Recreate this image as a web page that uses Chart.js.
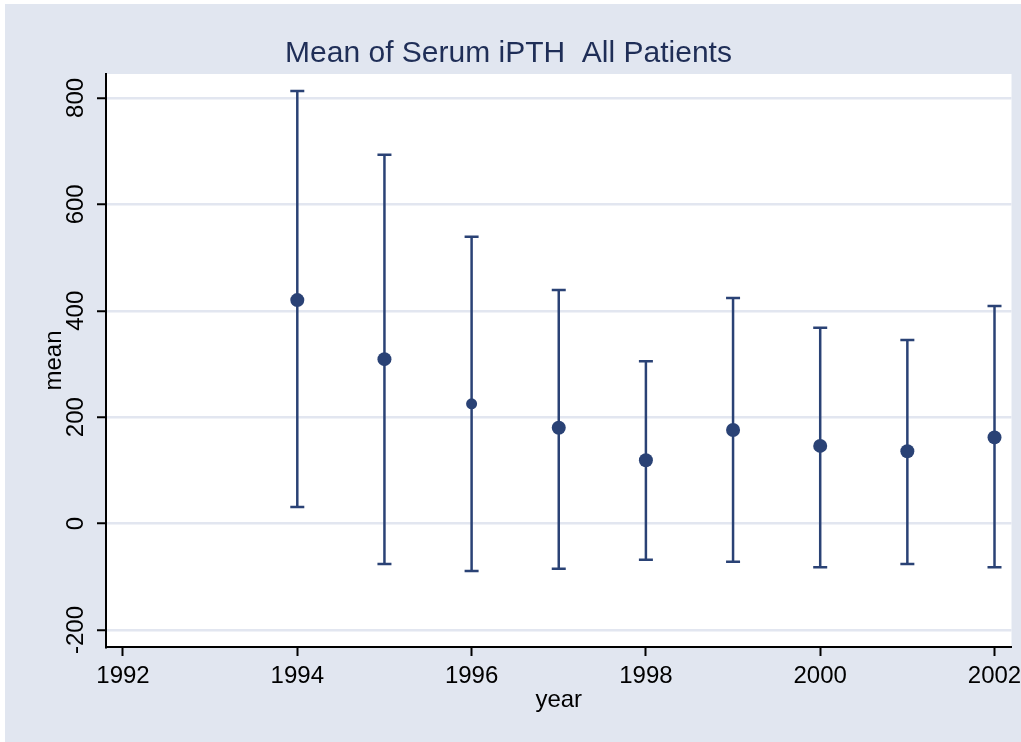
<!DOCTYPE html>
<html>
<head>
<meta charset="utf-8">
<script src="https://cdn.jsdelivr.net/npm/chart.js@4.4.1/dist/chart.umd.min.js"></script>
<style>
  html, body { margin: 0; padding: 0; background: #ffffff; }
  #wrap {
    position: absolute; left: 5px; top: 4px;
    width: 1016px; height: 738px;
    background: #e1e6f0;
  }
</style>
</head>
<body>
<div id="wrap"><canvas id="chart" width="1016" height="738"></canvas></div>
<script>
// data
const years = [1994, 1995, 1996, 1997, 1998, 1999, 2000, 2001, 2002];
const means = [420, 309, 225, 180, 119, 176, 146, 136, 162];
const upper = [813, 693, 539, 439, 305, 424, 368, 345, 409];
const lower = [31, -76, -89, -85, -68, -72, -82, -76, -82];
const xTicks = [1992, 1994, 1996, 1998, 2000, 2002];
const yTicks = [-200, 0, 200, 400, 600, 800];

const navy = '#2a4275';
const fontFamily = '"Liberation Sans", Arial, sans-serif';

// vertical whiskers: two points per year, broken by a null
const whiskers = [];
years.forEach((yr, i) => {
  whiskers.push({ x: yr, y: lower[i] });
  whiskers.push({ x: yr, y: upper[i] });
  whiskers.push({ x: yr, y: null });
});
const caps = [];
years.forEach((yr, i) => {
  caps.push({ x: yr, y: lower[i] });
  caps.push({ x: yr, y: upper[i] });
});

// white plot region
const plotBg = {
  id: 'plotBg',
  beforeDraw(chart) {
    const a = chart.chartArea;
    const ctx = chart.ctx;
    ctx.save();
    ctx.fillStyle = '#ffffff';
    ctx.fillRect(a.left, a.top, a.right - a.left, a.bottom - a.top);
    ctx.restore();
  }
};

const ctx = document.getElementById('chart').getContext('2d');
new Chart(ctx, {
  type: 'scatter',
  data: {
    datasets: [
      {
        type: 'line',
        data: whiskers,
        borderColor: navy,
        borderWidth: 2.5,
        pointRadius: 0,
        spanGaps: false,
        order: 3
      },
      {
        data: caps,
        pointStyle: 'line',
        pointRadius: 7,
        borderColor: navy,
        borderWidth: 2.5,
        order: 2
      },
      {
        data: years.map((yr, i) => ({ x: yr, y: means[i] })),
        pointStyle: 'circle',
        pointRadius: [7, 7, 5.5, 7, 7, 7, 7, 7, 7],
        backgroundColor: navy,
        borderColor: navy,
        borderWidth: 0,
        order: 1
      }
    ]
  },
  options: {
    responsive: false,
    animation: false,
    layout: { padding: { left: 0, right: 9, top: 0, bottom: 0 } },
    plugins: {
      legend: { display: false },
      tooltip: { enabled: false },
      title: {
        display: true,
        text: 'Mean of Serum iPTH  All Patients',
        color: '#1f2e57',
        font: { family: fontFamily, size: 30, weight: 'normal' },
        padding: { top: 32, bottom: 2 }
      }
    },
    scales: {
      x: {
        type: 'linear',
        min: 1991.805,
        max: 2002.195,
        afterBuildTicks: scale => { scale.ticks = xTicks.map(v => ({ value: v })); },
        afterFit: scale => { scale.height = 95; scale.paddingLeft = 0; scale.paddingRight = 0; },
        border: { color: '#000000', width: 2 },
        grid: { drawOnChartArea: false, tickColor: '#000000', tickLength: 9, tickWidth: 2 },
        ticks: {
          color: '#000000',
          padding: 6,
          maxRotation: 0,
          font: { family: fontFamily, size: 24 },
          callback: v => String(v)
        },
        title: {
          display: true,
          text: 'year',
          color: '#000000',
          font: { family: fontFamily, size: 24 },
          padding: { top: 0, bottom: 27 }
        }
      },
      y: {
        min: -232,
        max: 845,
        afterBuildTicks: scale => { scale.ticks = yTicks.map(v => ({ value: v })); },
        afterFit: scale => { scale.width = 101; scale.paddingTop = 0; scale.paddingBottom = 0; },
        border: { color: '#000000', width: 2 },
        grid: { color: '#e2e6f0', lineWidth: 2.5, tickColor: '#000000', tickLength: 9, tickWidth: 2 },
        ticks: {
          color: '#000000',
          padding: -3,
          minRotation: 90,
          maxRotation: 90,
          crossAlign: 'center',
          font: { family: fontFamily, size: 24 }
        },
        title: {
          display: true,
          text: 'mean',
          color: '#000000',
          font: { family: fontFamily, size: 24 },
          padding: { top: 35, bottom: 0 }
        }
      }
    }
  },
  plugins: [plotBg]
});
</script>
</body>
</html>
